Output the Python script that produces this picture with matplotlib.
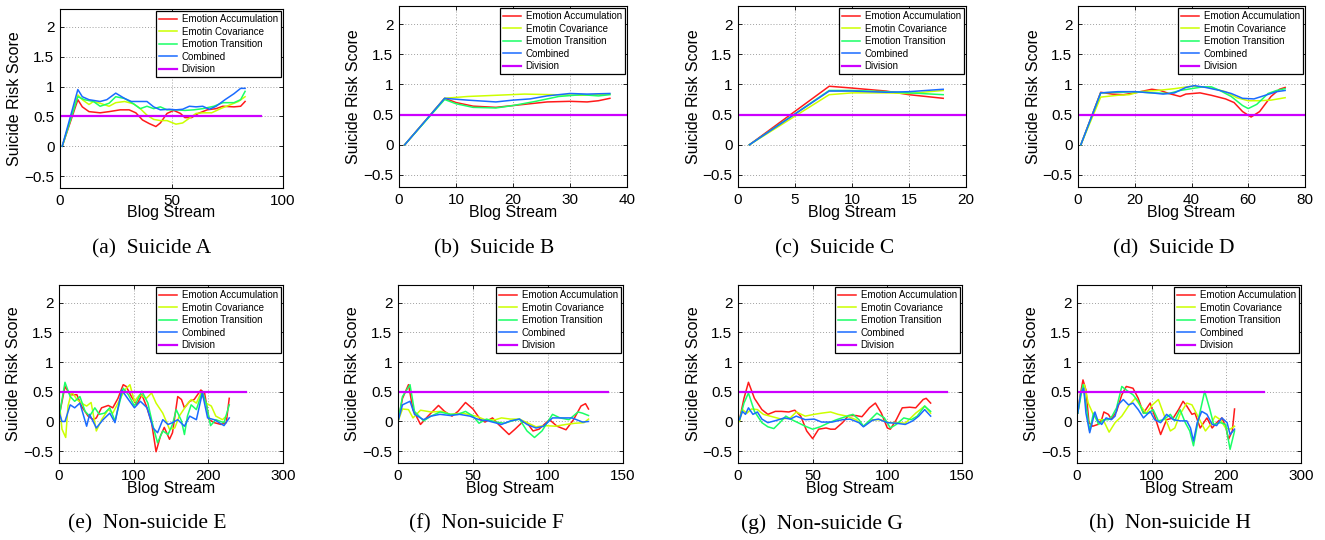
import matplotlib
matplotlib.use("Agg")
import matplotlib.pyplot as plt
from matplotlib.ticker import FuncFormatter

# ---------------- data ----------------
series_labels = ["Emotion Accumulation", "Emotin Covariance", "Emotion Transition", "Combined", "Division"]
captions = ["(a)  Suicide A", "(b)  Suicide B", "(c)  Suicide C", "(d)  Suicide D",
            "(e)  Non-suicide E", "(f)  Non-suicide F", "(g)  Non-suicide G", "(h)  Non-suicide H"]
xlims = [100, 40, 20, 80, 300, 150, 150, 300]
xticks = [[0, 50, 100], [0, 10, 20, 30, 40], [0, 5, 10, 15, 20], [0, 20, 40, 60, 80],
          [0, 100, 200, 300], [0, 50, 100, 150], [0, 50, 100, 150], [0, 100, 200, 300]]
yticks = [-0.5, 0, 0.5, 1, 1.5, 2]
division_value = 0.5
division_end = [90, 40, 20, 80, 250, 140, 140, 250]

# Panel A
A_acc_x = [1, 8, 10, 13, 18, 22, 27, 31, 34, 37, 40, 43, 45, 48, 51, 54, 56, 59, 62, 66, 70, 73, 78, 81, 83]
A_acc_y = [0, 0.78, 0.66, 0.58, 0.56, 0.58, 0.61, 0.61, 0.56, 0.44, 0.38, 0.33, 0.39, 0.55, 0.60, 0.55, 0.48, 0.48, 0.55, 0.61, 0.63, 0.67, 0.66, 0.67, 0.75]
A_cov_x = [1, 8, 10, 13, 15, 18, 22, 25, 29, 33, 36, 39, 42, 45, 48, 52, 55, 58, 61, 64, 68, 72, 76, 80, 83]
A_cov_y = [0, 0.86, 0.78, 0.70, 0.75, 0.72, 0.67, 0.73, 0.75, 0.71, 0.63, 0.52, 0.45, 0.43, 0.43, 0.37, 0.39, 0.47, 0.55, 0.56, 0.56, 0.63, 0.69, 0.75, 0.83]
A_tra_x = [1, 8, 11, 15, 18, 22, 25, 29, 33, 36, 39, 42, 45, 48, 52, 56, 60, 64, 69, 73, 78, 81, 83]
A_tra_y = [0, 0.83, 0.78, 0.75, 0.67, 0.72, 0.83, 0.80, 0.71, 0.63, 0.67, 0.63, 0.66, 0.61, 0.61, 0.60, 0.61, 0.63, 0.67, 0.73, 0.73, 0.78, 0.92]
A_com_x = [1, 8, 10, 13, 18, 21, 25, 29, 32, 36, 39, 42, 45, 49, 52, 55, 58, 61, 64, 67, 70, 74, 78, 81, 83]
A_com_y = [0, 0.95, 0.83, 0.78, 0.75, 0.78, 0.89, 0.80, 0.75, 0.75, 0.75, 0.66, 0.61, 0.62, 0.61, 0.62, 0.67, 0.66, 0.67, 0.62, 0.67, 0.78, 0.88, 0.97, 0.97]

# Panel B
B_acc_x = [1, 8, 10, 13, 17, 20, 23, 26, 30, 33, 35, 37]
B_acc_y = [0, 0.77, 0.70, 0.64, 0.62, 0.65, 0.68, 0.71, 0.72, 0.71, 0.73, 0.77]
B_cov_x = [1, 8, 12, 17, 22, 27, 32, 37]
B_cov_y = [0, 0.77, 0.80, 0.82, 0.84, 0.83, 0.82, 0.84]
B_tra_x = [1, 8, 10, 13, 17, 20, 24, 28, 32, 35, 37]
B_tra_y = [0, 0.75, 0.68, 0.62, 0.61, 0.65, 0.72, 0.80, 0.83, 0.81, 0.83]
B_com_x = [1, 8, 12, 17, 20, 23, 26, 30, 33, 37]
B_com_y = [0, 0.77, 0.74, 0.71, 0.74, 0.76, 0.81, 0.85, 0.84, 0.85]

# Panel C
C_acc_x = [1, 8, 10, 13, 15, 18]
C_acc_y = [0, 0.97, 0.94, 0.89, 0.83, 0.77]
C_cov_x = [1, 8, 10, 13, 15, 18]
C_cov_y = [0, 0.83, 0.86, 0.86, 0.85, 0.90]
C_tra_x = [1, 8, 10, 13, 15, 18]
C_tra_y = [0, 0.90, 0.90, 0.88, 0.86, 0.83]
C_com_x = [1, 8, 10, 13, 15, 18]
C_com_y = [0, 0.89, 0.89, 0.87, 0.88, 0.92]

# Panel D
D_acc_x = [1, 8, 12, 16, 20, 24, 26, 29, 32, 36, 38, 43, 47, 52, 55, 58, 61, 64, 68, 71, 73]
D_acc_y = [0, 0.87, 0.84, 0.83, 0.86, 0.90, 0.92, 0.90, 0.85, 0.80, 0.84, 0.86, 0.82, 0.76, 0.70, 0.55, 0.46, 0.55, 0.80, 0.92, 0.95]
D_cov_x = [1, 8, 14, 18, 22, 28, 34, 40, 46, 52, 56, 60, 64, 68, 73]
D_cov_y = [0, 0.79, 0.82, 0.83, 0.88, 0.90, 0.93, 0.97, 0.95, 0.88, 0.78, 0.73, 0.73, 0.74, 0.78]
D_tra_x = [1, 8, 14, 20, 26, 32, 36, 40, 44, 47, 50, 54, 58, 60, 63, 67, 70, 73]
D_tra_y = [0, 0.86, 0.87, 0.88, 0.86, 0.85, 0.90, 0.93, 0.96, 0.96, 0.90, 0.80, 0.65, 0.60, 0.67, 0.85, 0.90, 0.93]
D_com_x = [1, 8, 14, 20, 26, 30, 34, 38, 41, 45, 50, 54, 58, 62, 66, 70, 73]
D_com_y = [0, 0.86, 0.88, 0.88, 0.86, 0.84, 0.86, 0.95, 0.98, 0.95, 0.90, 0.85, 0.77, 0.76, 0.82, 0.88, 0.90]

# Panel E
E_acc_x = [1, 8, 15, 24, 30, 39, 46, 50, 57, 66, 72, 79, 86, 90, 97, 104, 111, 117, 124, 130, 136, 141, 148, 152, 159, 164, 168, 175, 181, 190, 195, 201, 208, 217, 224, 228]
E_acc_y = [0.14, 0.59, 0.45, 0.45, 0.26, 0.09, 0.03, 0.06, 0.23, 0.27, 0.23, 0.39, 0.62, 0.59, 0.42, 0.28, 0.45, 0.26, -0.02, -0.51, -0.24, -0.10, -0.30, -0.19, 0.42, 0.37, 0.23, 0.34, 0.37, 0.53, 0.48, 0.03, -0.02, -0.05, -0.02, 0.39]
E_cov_x = [1, 4, 9, 12, 17, 24, 30, 37, 43, 50, 57, 66, 72, 79, 88, 95, 101, 108, 117, 124, 130, 139, 148, 155, 161, 170, 177, 184, 190, 197, 204, 210, 219, 224]
E_cov_y = [0.25, -0.13, -0.27, 0.26, 0.50, 0.37, 0.31, 0.26, 0.32, -0.16, 0.03, 0.20, 0.14, 0.31, 0.53, 0.62, 0.34, 0.45, 0.39, 0.48, 0.31, 0.14, -0.13, -0.11, 0.09, 0.26, 0.37, 0.31, 0.48, 0.31, 0.26, 0.09, 0.03, 0.09]
E_tra_x = [1, 8, 15, 21, 28, 35, 41, 48, 54, 61, 68, 75, 81, 86, 93, 101, 111, 119, 126, 132, 139, 146, 152, 157, 164, 168, 172, 177, 184, 192, 197, 203, 210, 221, 228]
E_tra_y = [0.14, 0.66, 0.42, 0.34, 0.42, 0.17, 0.09, 0.23, 0.12, 0.14, 0.23, 0.01, 0.31, 0.56, 0.45, 0.26, 0.51, 0.31, -0.08, -0.36, -0.16, -0.22, -0.05, 0.20, 0.01, -0.22, 0.09, 0.28, 0.20, 0.51, 0.31, -0.07, 0.03, -0.02, 0.28]
E_com_x = [1, 4, 8, 15, 21, 28, 37, 41, 50, 59, 68, 75, 84, 93, 101, 109, 118, 126, 132, 139, 146, 152, 159, 168, 175, 184, 192, 199, 208, 221, 228]
E_com_y = [0.12, 0.0, 0.0, 0.28, 0.23, 0.31, -0.08, 0.12, -0.11, 0.03, 0.14, -0.02, 0.53, 0.37, 0.23, 0.34, 0.23, -0.11, -0.19, 0.03, -0.05, -0.02, 0.03, -0.08, 0.09, 0.03, 0.48, 0.06, 0.03, -0.07, 0.06]

# Panel F
F_acc_x = [0, 3, 7, 10, 15, 20, 27, 31, 36, 40, 45, 50, 55, 58, 63, 67, 74, 78, 83, 86, 90, 94, 101, 106, 112, 117, 122, 125, 127]
F_acc_y = [0, 0.39, 0.62, 0.20, -0.05, 0.09, 0.27, 0.17, 0.09, 0.17, 0.32, 0.21, 0.03, -0.01, 0.06, -0.05, -0.22, -0.13, -0.01, -0.02, -0.16, -0.13, 0.03, -0.08, -0.14, 0.03, 0.26, 0.30, 0.21]
F_cov_x = [0, 3, 7, 10, 15, 22, 29, 35, 43, 52, 58, 65, 69, 75, 81, 86, 92, 98, 105, 112, 118, 124, 127]
F_cov_y = [0, 0.21, 0.20, 0.06, 0.19, 0.16, 0.17, 0.12, 0.14, 0.09, 0.03, 0.03, 0.06, 0.04, 0.04, -0.02, -0.09, -0.07, -0.08, -0.05, -0.03, -0.02, 0.04]
F_tra_x = [0, 3, 8, 11, 17, 22, 28, 35, 40, 45, 50, 54, 59, 65, 71, 76, 81, 86, 91, 96, 103, 108, 114, 120, 123, 127]
F_tra_y = [0, 0.42, 0.62, 0.17, 0.01, 0.09, 0.16, 0.12, 0.12, 0.17, 0.09, -0.03, 0.04, -0.01, -0.03, 0.01, 0.04, -0.16, -0.27, -0.16, 0.12, 0.06, 0.03, 0.16, 0.14, 0.10]
F_com_x = [0, 3, 8, 11, 17, 22, 28, 35, 41, 48, 54, 60, 69, 75, 81, 86, 92, 97, 103, 110, 116, 123, 127]
F_com_y = [0, 0.28, 0.34, 0.12, 0.03, 0.09, 0.12, 0.10, 0.12, 0.09, 0.03, 0.01, -0.05, 0.01, 0.04, -0.05, -0.11, -0.08, 0.06, 0.06, 0.06, -0.01, 0.0]

# Panel G
G_acc_x = [1, 4, 7, 11, 16, 20, 25, 29, 34, 38, 42, 46, 50, 54, 59, 62, 65, 70, 74, 79, 83, 88, 92, 96, 100, 102, 106, 110, 115, 119, 124, 126, 129]
G_acc_y = [0.03, 0.39, 0.66, 0.39, 0.20, 0.12, 0.17, 0.17, 0.16, 0.19, 0.09, -0.16, -0.29, -0.13, -0.11, -0.13, -0.13, -0.02, 0.10, 0.10, 0.08, 0.23, 0.31, 0.14, -0.11, -0.13, 0.03, 0.23, 0.24, 0.23, 0.37, 0.39, 0.31]
G_cov_x = [1, 3, 6, 9, 13, 17, 23, 29, 35, 39, 45, 51, 56, 62, 67, 73, 79, 84, 90, 95, 101, 107, 112, 119, 125, 129]
G_cov_y = [0, 0.20, 0.14, 0.21, 0.20, 0.12, 0.08, 0.04, 0.06, 0.16, 0.09, 0.12, 0.14, 0.16, 0.12, 0.09, 0.03, -0.08, 0.03, 0.03, -0.02, -0.02, -0.03, 0.14, 0.26, 0.14]
G_tra_x = [1, 4, 7, 11, 16, 20, 24, 28, 32, 36, 41, 45, 50, 55, 61, 66, 72, 77, 81, 84, 89, 93, 98, 102, 106, 111, 116, 120, 125, 129]
G_tra_y = [0.03, 0.31, 0.48, 0.17, -0.02, -0.09, -0.12, -0.02, 0.09, 0.03, -0.03, -0.08, -0.13, -0.09, -0.02, 0.03, 0.08, 0.12, 0.03, -0.08, 0.04, 0.14, 0.06, -0.11, -0.05, 0.06, 0.03, 0.09, 0.26, 0.17]
G_com_x = [1, 3, 5, 7, 10, 13, 16, 20, 26, 31, 35, 39, 45, 51, 56, 63, 70, 75, 81, 84, 90, 94, 100, 106, 112, 117, 121, 125, 129]
G_com_y = [0.03, 0.17, 0.12, 0.23, 0.12, 0.16, 0.04, -0.02, 0.02, 0.06, 0.04, 0.09, 0.03, 0.04, -0.01, -0.01, 0.03, 0.04, -0.02, -0.09, 0.02, 0.04, -0.02, -0.03, -0.05, 0.01, 0.09, 0.20, 0.09]

# Panel H
H_acc_x = [1, 4, 8, 12, 16, 21, 28, 33, 36, 42, 46, 53, 60, 66, 75, 82, 89, 98, 104, 112, 120, 129, 136, 142, 147, 154, 158, 165, 174, 181, 187, 194, 199, 203, 208, 211]
H_acc_y = [0.14, 0.42, 0.70, 0.53, -0.02, -0.08, -0.05, 0.03, 0.16, 0.12, 0.04, 0.17, 0.45, 0.59, 0.56, 0.39, 0.14, 0.31, 0.09, -0.22, 0.03, 0.06, 0.20, 0.34, 0.26, 0.12, 0.14, -0.11, 0.06, -0.11, -0.02, 0.06, -0.08, -0.30, -0.16, 0.21]
H_cov_x = [1, 5, 10, 15, 21, 27, 35, 43, 51, 60, 69, 78, 84, 93, 101, 109, 118, 125, 131, 138, 147, 154, 163, 172, 179, 185, 192, 199, 205, 211]
H_cov_y = [0.14, 0.48, 0.62, 0.31, 0.14, 0.03, 0.03, -0.18, -0.02, 0.09, 0.26, 0.39, 0.28, 0.14, 0.28, 0.37, 0.06, -0.16, -0.11, 0.12, 0.31, 0.28, 0.06, -0.16, -0.05, 0.09, 0.03, -0.11, -0.13, -0.08]
H_tra_x = [1, 8, 13, 17, 22, 29, 36, 42, 47, 53, 60, 66, 75, 82, 89, 96, 102, 109, 116, 125, 131, 138, 145, 151, 156, 163, 171, 178, 183, 192, 199, 205, 211]
H_tra_y = [0.14, 0.62, 0.20, -0.16, 0.14, -0.05, 0.03, 0.03, 0.09, 0.23, 0.59, 0.53, 0.45, 0.34, 0.14, 0.14, 0.20, 0.01, 0.03, 0.12, 0.01, 0.20, -0.02, -0.16, -0.41, 0.06, 0.51, 0.20, -0.05, -0.02, -0.05, -0.47, -0.16]
H_com_x = [1, 5, 9, 12, 17, 24, 28, 33, 39, 46, 51, 55, 62, 69, 75, 82, 89, 98, 104, 112, 120, 129, 138, 147, 152, 156, 161, 167, 174, 181, 187, 194, 201, 205, 211]
H_com_y = [0.14, 0.48, 0.56, 0.14, -0.19, 0.16, 0.01, -0.05, 0.06, 0.03, 0.09, 0.28, 0.37, 0.28, 0.31, 0.20, 0.06, 0.17, 0.03, -0.02, 0.12, 0.03, 0.01, 0.01, -0.11, -0.33, -0.02, 0.17, 0.12, -0.05, -0.07, 0.06, -0.02, -0.22, -0.13]

panel_data = [
    [(A_acc_x, A_acc_y), (A_cov_x, A_cov_y), (A_tra_x, A_tra_y), (A_com_x, A_com_y)],
    [(B_acc_x, B_acc_y), (B_cov_x, B_cov_y), (B_tra_x, B_tra_y), (B_com_x, B_com_y)],
    [(C_acc_x, C_acc_y), (C_cov_x, C_cov_y), (C_tra_x, C_tra_y), (C_com_x, C_com_y)],
    [(D_acc_x, D_acc_y), (D_cov_x, D_cov_y), (D_tra_x, D_tra_y), (D_com_x, D_com_y)],
    [(E_acc_x, E_acc_y), (E_cov_x, E_cov_y), (E_tra_x, E_tra_y), (E_com_x, E_com_y)],
    [(F_acc_x, F_acc_y), (F_cov_x, F_cov_y), (F_tra_x, F_tra_y), (F_com_x, F_com_y)],
    [(G_acc_x, G_acc_y), (G_cov_x, G_cov_y), (G_tra_x, G_tra_y), (G_com_x, G_com_y)],
    [(H_acc_x, H_acc_y), (H_cov_x, H_cov_y), (H_tra_x, H_tra_y), (H_com_x, H_com_y)],
]

# ---------------- style ----------------
colors = ["#ff1a1a", "#ccff00", "#1aff66", "#1a6bff", "#cc00ff"]
W, H = 1325, 540
# axes boxes in pixels: left, top, right, bottom
boxes = [(60, 9, 283, 188), (399, 6, 627, 187), (738, 6, 966, 187), (1078, 6, 1305, 187),
         (59, 285, 283, 463), (398, 285, 623, 463), (738, 285, 962, 463), (1077, 285, 1301, 463)]
caption_x = [152, 494, 835, 1174, 147, 486, 822, 1170]
caption_y = [249, 249, 249, 249, 524, 524, 524, 524]

plt.rcParams['font.family'] = ['Liberation Sans', 'DejaVu Sans']
fig = plt.figure(figsize=(W / 100, H / 100), dpi=100)


def fmt(v, pos):
    s = "%g" % v
    return s.replace("-", "\u2212")


for i in range(8):
    l, t, r, b = boxes[i]
    ax = fig.add_axes([l / W, 1 - b / H, (r - l) / W, (b - t) / H])
    lines = []
    for k, (xs, ys) in enumerate(panel_data[i]):
        ln, = ax.plot(xs, ys, color=colors[k], lw=1.1, label=series_labels[k])
        lines.append(ln)
    ln, = ax.plot([0, division_end[i]], [division_value, division_value], color=colors[4], lw=1.6,
                  label=series_labels[4])
    lines.append(ln)
    ax.set_xlim(0, xlims[i])
    ax.set_ylim(-0.7, 2.3)
    ax.set_xticks(xticks[i])
    ax.set_yticks(yticks)
    ax.xaxis.set_major_formatter(FuncFormatter(fmt))
    ax.yaxis.set_major_formatter(FuncFormatter(fmt))
    ax.tick_params(direction='in', length=3, width=0.6, labelsize=11, top=True, right=True, pad=4)
    ax.grid(True, linestyle=(0, (1, 2)), color='#a0a0a0', lw=0.7)
    for sp in ax.spines.values():
        sp.set_linewidth(0.8)
        sp.set_color('black')
    ax.set_xlabel("Blog Stream", fontsize=11.5)
    ax.set_ylabel("Suicide Risk Score", fontsize=11.5)
    ax.xaxis.set_label_coords(0.5, -25 / (b - t))
    ax.xaxis.label.set_va('center')
    ax.yaxis.set_label_coords(-45 / (r - l), 0.5)
    ax.yaxis.label.set_va('center')
    leg = ax.legend(handles=lines, loc='upper right', fontsize=7, handlelength=1.8,
                    handletextpad=0.5, labelspacing=0.25, borderpad=0.3, borderaxespad=0.25,
                    fancybox=False, framealpha=1, edgecolor='black')
    leg.get_frame().set_linewidth(0.9)
    fig.text(caption_x[i] / W, 1 - caption_y[i] / H, captions[i], ha='center', va='center',
             fontsize=15.5, family=['Liberation Serif', 'DejaVu Serif'])

fig.savefig("out.png", dpi=100)
